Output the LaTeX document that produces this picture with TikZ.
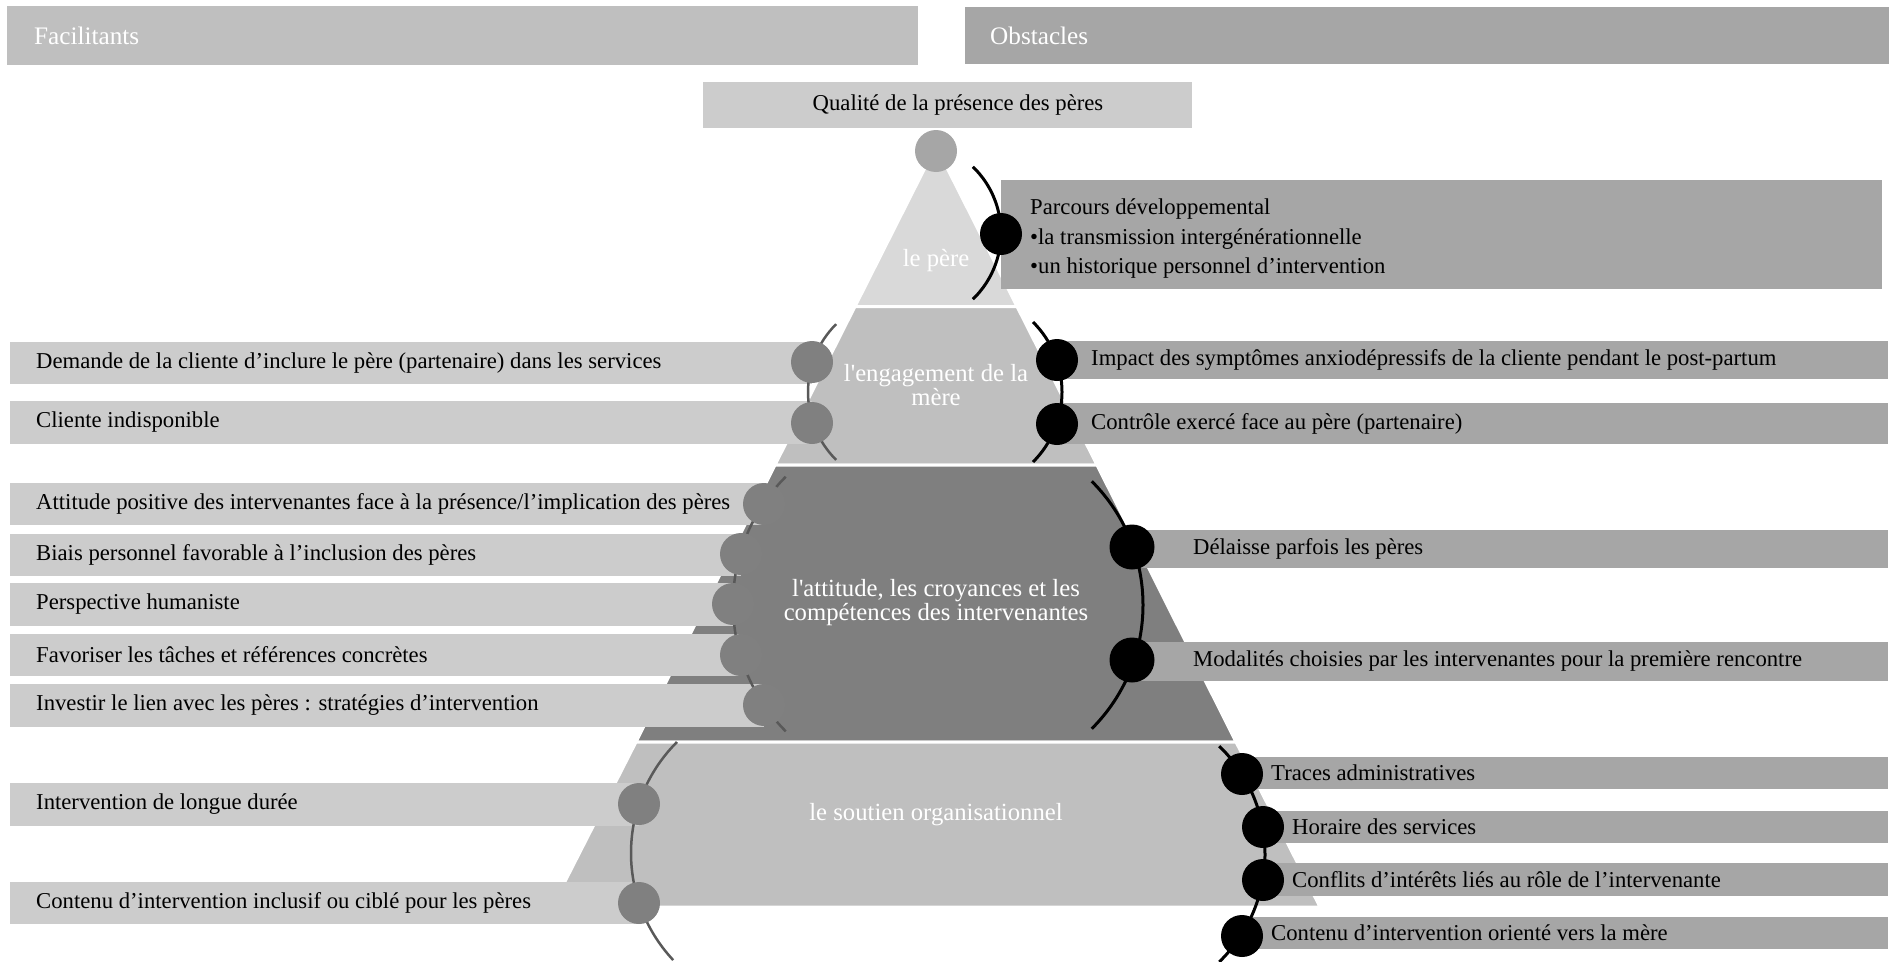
\documentclass[tikz,border=0pt]{standalone}
\usepackage{fontspec}
\setmainfont{Liberation Serif}
\definecolor{headFac}{RGB}{191,191,191}
\definecolor{headObs}{RGB}{166,166,166}
\definecolor{boxFac}{RGB}{204,204,204}
\definecolor{boxObs}{RGB}{166,166,166}
\definecolor{boxQual}{RGB}{204,204,204}
\definecolor{layerA}{RGB}{217,217,217}
\definecolor{layerB}{RGB}{191,191,191}
\definecolor{layerC}{RGB}{127,127,127}
\definecolor{dotFac}{RGB}{128,128,128}
\definecolor{dotTop}{RGB}{166,166,166}
\definecolor{arcFac}{RGB}{89,89,89}

\begin{document}
\begin{tikzpicture}[
  x=1pt, y=-1pt,
  every node/.style={inner sep=0pt, font=\fontsize{22.7}{24}\selectfont},
  layer/.style={draw=white, line width=3pt},
  facbox/.style={fill=boxFac},
  obsbox/.style={fill=boxObs},
  headtext/.style={anchor=west, text=white, font=\fontsize{25.2}{27}\selectfont},
  layertext/.style={text=white, align=center, font=\fontsize{24.7}{24}\selectfont},
  facdot/.style={circle, fill=dotFac, minimum size=42pt},
  obsdot/.style={circle, fill=black, minimum size=42pt},
  facarc/.style={draw=arcFac, line width=2.5pt},
  obsarc/.style={draw=black, line width=3pt}
]
\useasboundingbox (0,0) rectangle (1894,961);

% headers
\fill[headFac] (7,6) rectangle (918,65);
\node[headtext] (fac) at (34,36) {Facilitants};
\fill[headObs] (965,7) rectangle (1889,64);
\node[headtext] (obs) at (990,36) {Obstacles};
\fill[boxQual] (703,82) rectangle (1192,128);
\node (qual) at (958,105) {Qualité de la présence des pères};

% pyramid
\filldraw[layer, fill=layerA] (936,146) -- (1017,306.5) -- (855,306.5) -- cycle;
\filldraw[layer, fill=layerB] (855,306.5) -- (1017,306.5) -- (1097,465) -- (775,465) -- cycle;
\filldraw[layer, fill=layerC] (775,465) -- (1097,465) -- (1236,742) -- (636,742) -- cycle;
\filldraw[layer, fill=layerB] (636,742) -- (1236,742) -- (1320,907) -- (552,907) -- cycle;

\node[layertext] (pere) at (936,261) {le père};
\node[layertext] (mere) at (936,385) {l\textquotesingle engagement de la\\mère};
\node[layertext] (interv) at (936,603) {l\textquotesingle attitude, les croyances et les\\compétences des intervenantes};
\node[layertext] (orga) at (936,815) {le soutien organisationnel};

% facilitants
\foreach \nm/\ya/\yb/\xb/\txt in {
  dem/342/384/812/{Demande de la cliente d’inclure le père (partenaire) dans les services},
  indisp/401/444/812/{Cliente indisponible},
  attit/483/525/764/{Attitude positive des intervenantes face à la présence/l’implication des pères},
  biais/534/576/741/{Biais personnel favorable à l’inclusion des pères},
  human/583/626/733/{Perspective humaniste},
  taches/634/676/741/{Favoriser les tâches et références concrètes},
  lien/684/727/764/{Investir le lien avec les pères : stratégies d’intervention},
  duree/783/826/639/{Intervention de longue durée},
  contenu/882/924/639/{Contenu d’intervention inclusif ou ciblé pour les pères}
}{
  \fill[facbox] (10,\ya) rectangle (\xb,\yb);
  \node[anchor=west] (\nm) at (36,{(\ya+\yb)/2}) {\txt};
}

% obstacles
\fill[obsbox] (1001,180) rectangle (1882,289);
\node[anchor=west, align=left, font=\fontsize{22.7}{29.5}\selectfont] (parc) at (1030,239)
  {Parcours développemental\\•la transmission intergénérationnelle\\•un historique personnel d’intervention};
\foreach \nm/\xa/\ya/\yb/\tx/\txt in {
  impact/1057/341/379/1091/{Impact des symptômes anxiodépressifs de la cliente pendant le post-partum},
  ctrl/1057/403/444/1091/{Contrôle exercé face au père (partenaire)},
  delaisse/1132/530/568/1193/{Délaisse parfois les pères},
  modal/1132/642/681/1193/{Modalités choisies par les intervenantes pour la première rencontre},
  traces/1242/757/789/1271/{Traces administratives},
  horaire/1263/811/843/1292/{Horaire des services},
  conflits/1263/863/896/1292/{Conflits d’intérêts liés au rôle de l’intervenante},
  mere/1242/917/949/1271/{Contenu d’intervention orienté vers la mère}
}{
  \fill[obsbox] (\xa,\ya) rectangle (1888,\yb);
  \node[anchor=west] (\nm) at (\tx,{(\ya+\yb)/2}) {\txt};
}

% arcs
\draw[facarc] (904,392) ++(225:96) arc[start angle=225, end angle=135, radius=96];
\draw[facarc] (913,604) ++(225:180) arc[start angle=225, end angle=135, radius=180];
\draw[facarc] (788,853) ++(225:157) arc[start angle=225, end angle=137, radius=157];
\draw[obsarc] (909,233) ++(-46:92) arc[start angle=-46, end angle=46, radius=92];
\draw[obsarc] (963,392) ++(-45:99) arc[start angle=-45, end angle=45, radius=99];
\draw[obsarc] (968,605) ++(-45:175) arc[start angle=-45, end angle=45, radius=175];
\draw[obsarc] (1115,854) ++(-46:150) arc[start angle=-46, end angle=46, radius=150];

% dots
\node[circle, fill=dotTop, minimum size=42pt] (top) at (936,151) {};
\foreach \nm/\x/\y in {dem/812/362, indisp/812/423, attit/764/504, biais/741/554,
  human/733/604, taches/741/655, lien/764/705, duree/639/804, contenu/639/903}
  \node[facdot] (\nm-dot) at (\x,\y) {};
\foreach \nm/\x/\y in {parc/1001/234, impact/1057/360, ctrl/1057/424, traces/1242/774,
  horaire/1263/827, conflits/1263/880, mere/1242/936}
  \node[obsdot] (\nm-dot) at (\x,\y) {};
\foreach \nm/\y in {delaisse/547, modal/660}
  \node[obsdot, minimum size=45pt] (\nm-dot) at (1132,\y) {};
\end{tikzpicture}
\end{document}
